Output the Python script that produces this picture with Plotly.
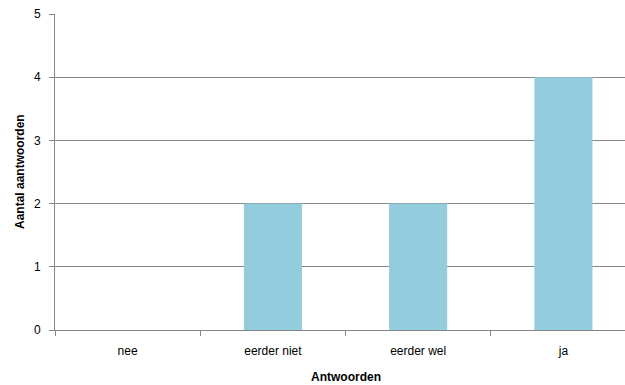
import plotly.graph_objects as go

# Survey answers and their counts
categories = ["nee", "eerder niet", "eerder wel", "ja"]
counts = [0, 2, 2, 4]
y_ticks = [0, 1, 2, 3, 4, 5]

x_title = "Antwoorden"
y_title = "Aantal aantwoorden"

BAR_COLOR = "#93CDDD"
LINE_COLOR = "#868686"
FONT = "Liberation Sans"

fig = go.Figure(
    go.Bar(
        x=categories,
        y=counts,
        marker=dict(color=BAR_COLOR, line=dict(width=0)),
        width=0.4,
    )
)

fig.update_layout(
    width=625,
    height=385,
    margin=dict(l=55, r=0, t=13.5, b=55),
    paper_bgcolor="white",
    plot_bgcolor="white",
    showlegend=False,
    font=dict(family=FONT, size=12, color="#000000"),
)

fig.update_xaxes(
    type="category",
    range=[-0.5, 3.424],
    showgrid=False,
    showline=True,
    linecolor=LINE_COLOR,
    linewidth=1,
    ticks="outside",
    tickson="boundaries",
    ticklen=5,
    tickcolor=LINE_COLOR,
    tickfont=dict(size=12),
    ticklabelstandoff=10,
)

fig.update_yaxes(
    range=[0, 5],
    tickvals=y_ticks,
    showgrid=True,
    gridcolor=LINE_COLOR,
    gridwidth=1,
    zeroline=False,
    showline=True,
    linecolor=LINE_COLOR,
    linewidth=1,
    ticks="outside",
    ticklen=5,
    tickcolor=LINE_COLOR,
    tickfont=dict(size=12),
    ticklabelstandoff=6,
)

# Axis titles placed as annotations so they sit centred on the category span
fig.add_annotation(
    x=1.5, xref="x",
    y=-0.1485, yref="paper",
    text=f"<b>{x_title}</b>",
    showarrow=False,
    xanchor="center", yanchor="middle",
    font=dict(family=FONT, size=12, color="#000000"),
)
fig.add_annotation(
    x=-0.0614, xref="paper",
    y=0.5, yref="paper",
    text=f"<b>{y_title}</b>",
    textangle=-90,
    showarrow=False,
    xanchor="center", yanchor="middle",
    font=dict(family=FONT, size=12, color="#000000"),
)

fig.write_html("out.html")
